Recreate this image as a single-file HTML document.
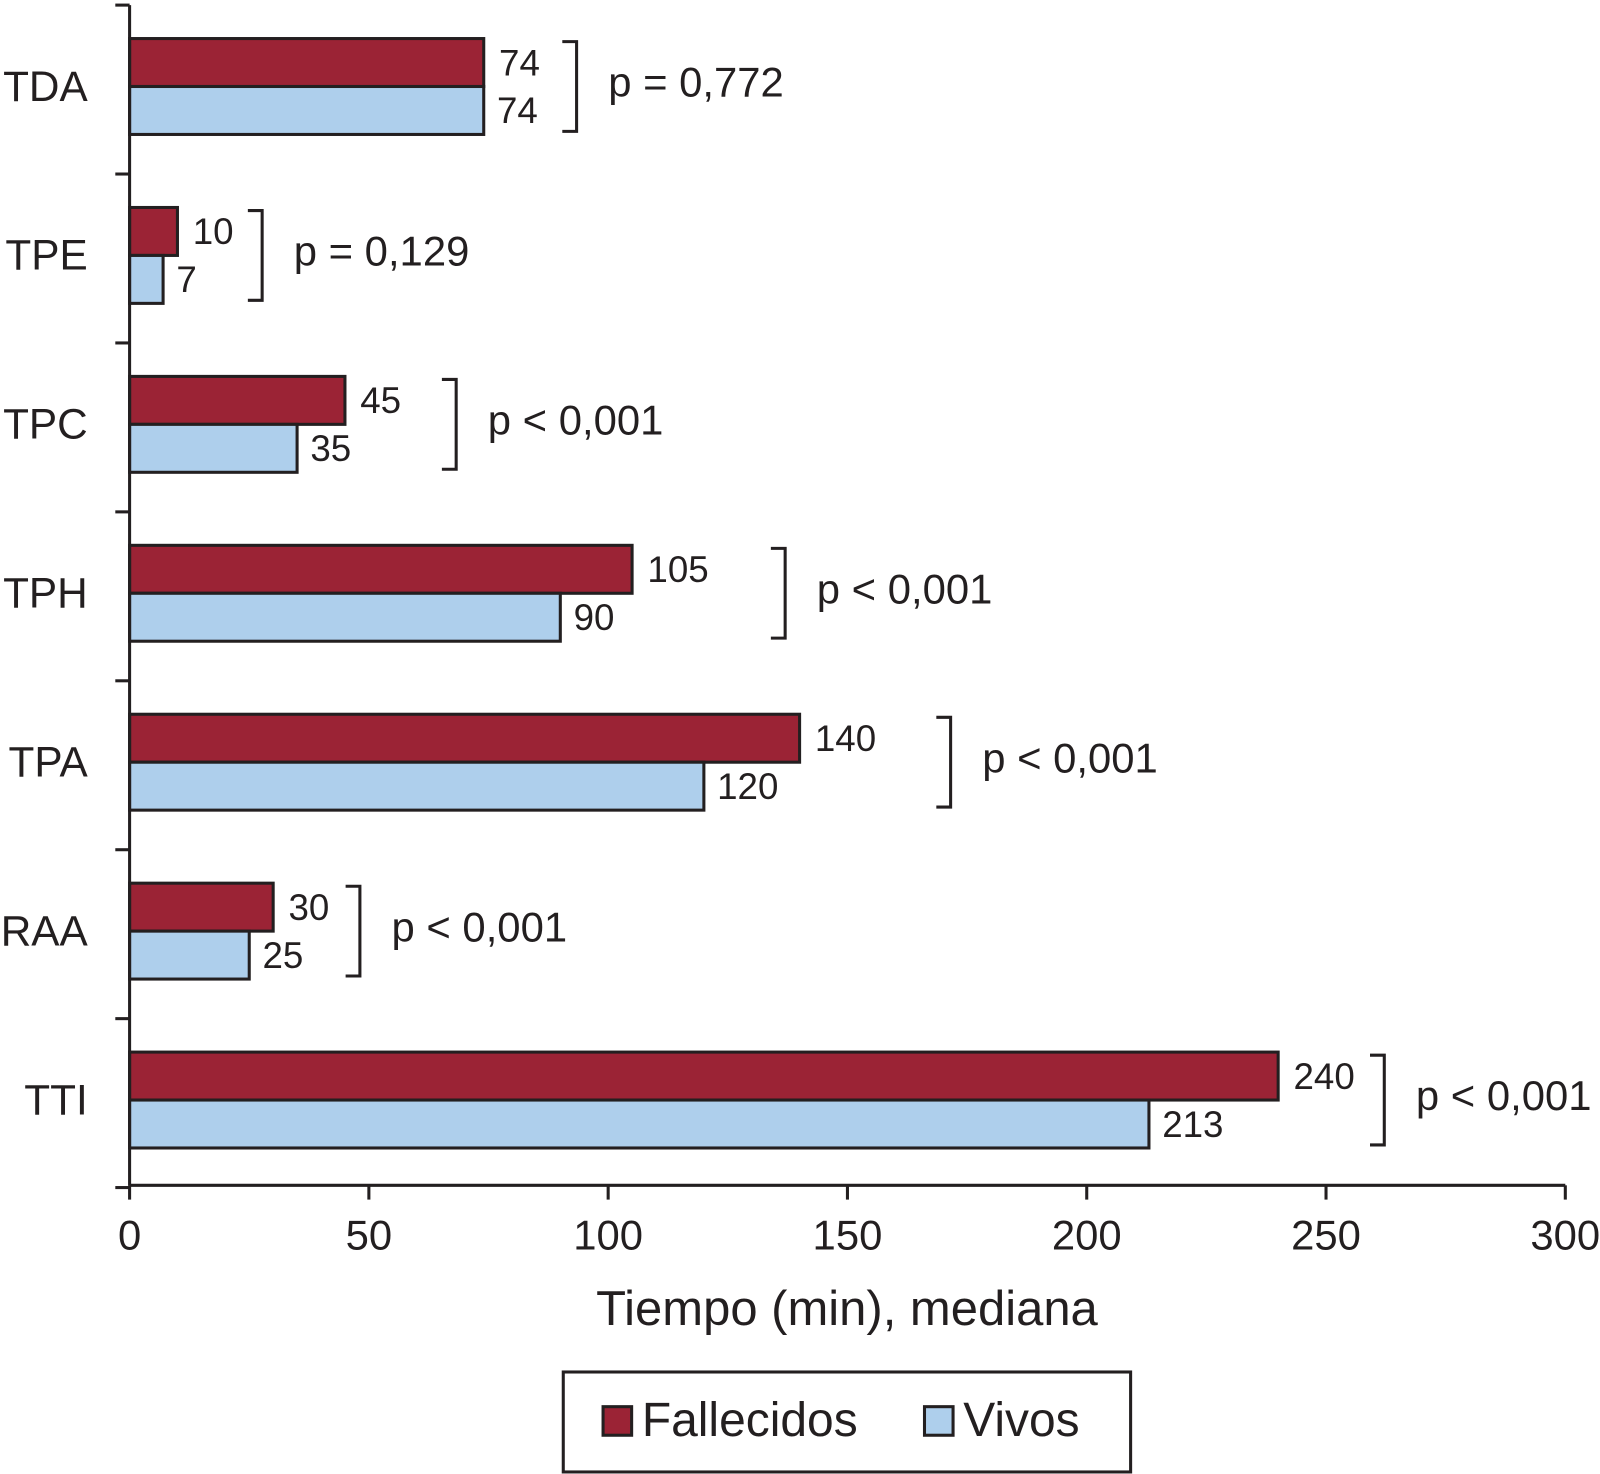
<!DOCTYPE html>
<html><head><meta charset="utf-8"><style>
html,body{margin:0;padding:0;background:#fff;}
svg{display:block;}
text{font-family:"Liberation Sans",Arial,sans-serif;fill:#231f20;}
</style></head><body>
<svg id="chart" width="1600" height="1474" viewBox="0 0 1568 1445" preserveAspectRatio="none" xmlns="http://www.w3.org/2000/svg">
<g id="plot"></g>
</svg>
<script>
const categories = ["TDA","TPE","TPC","TPH","TPA","RAA","TTI"];
const fallecidos = [74,10,45,105,140,30,240];
const vivos = [74,7,35,90,120,25,213];
const pLabels = ["p = 0,772","p = 0,129","p < 0,001","p < 0,001","p < 0,001","p < 0,001","p < 0,001"];
const xTicks = [0,50,100,150,200,250,300];

const NS = "http://www.w3.org/2000/svg";
const g = document.getElementById("plot");
const x0 = 127, x1 = 1534, xMax = 300;
const yTop = 5, bandH = 165.6;
const bracketGap = [91,83,109,150,148,85,104];
const xs = v => x0 + v / xMax * (x1 - x0);
const yc = i => yTop + bandH * (i + 0.5) - 3;
function mk(tag, attrs, parent){ const e=document.createElementNS(NS,tag); for(const k in attrs) e.setAttribute(k,attrs[k]); (parent||g).appendChild(e); return e; }

categories.forEach((c,i)=>{
  const cy = yc(i), bh = 47;
  const r = mk("rect",{x:xs(0),y:cy-bh,width:xs(fallecidos[i])-xs(0),height:bh,fill:"#9b2335",stroke:"#231f20","stroke-width":3});
  
  
  const b = mk("rect",{x:xs(0),y:cy,width:xs(vivos[i])-xs(0),height:bh,fill:"#aecfec",stroke:"#231f20","stroke-width":3});
  
  
  const t1 = mk("text",{x:xs(fallecidos[i])+15,y:cy-11,"font-size":36});
  t1.textContent = fallecidos[i];
  
  
  const t2 = mk("text",{x:xs(vivos[i])+13,y:cy+36,"font-size":36});
  t2.textContent = vivos[i];
  
  
  const lab = mk("text",{x:86,y:cy+14,"font-size":41.5,"text-anchor":"end"});
  lab.textContent = c;
  
  
  const mx = xs(Math.max(fallecidos[i],vivos[i]));
  const bx = mx + bracketGap[i];
  const br = mk("path",{d:`M${bx-14},${cy-44} H${bx} V${cy+44} H${bx-14}`,fill:"none",stroke:"#231f20","stroke-width":3});
  
  
  const p = mk("text",{x:bx+31,y:cy+10,"font-size":41});
  p.textContent = pLabels[i];
  
  
});

const ya = mk("line",{x1:x0,y1:yTop,x2:x0,y2:1162,stroke:"#231f20","stroke-width":3});


for(let k=0;k<=categories.length;k++){
  const y = yTop + bandH*k;
  const t = mk("line",{x1:113,y1:y,x2:x0,y2:y,stroke:"#231f20","stroke-width":3});
  
  
}
const xa = mk("line",{x1:x0,y1:1162,x2:x1,y2:1162,stroke:"#231f20","stroke-width":3});


xTicks.forEach(v=>{
  const t = mk("line",{x1:xs(v),y1:1162,x2:xs(v),y2:1176,stroke:"#231f20","stroke-width":3});
  
  
  const l = mk("text",{x:xs(v),y:1225,"font-size":41,"text-anchor":"middle"});
  l.textContent = v;
  
  
});
const xt = mk("text",{x:830,y:1299,"font-size":48,"text-anchor":"middle"});
xt.textContent = "Tiempo (min), mediana";



const lg = mk("g",{});


mk("rect",{x:552,y:1345,width:556,height:98,fill:"#fff",stroke:"#231f20","stroke-width":3},lg);
const s1 = mk("rect",{x:591,y:1379,width:28,height:28,fill:"#9b2335",stroke:"#231f20","stroke-width":3},lg);


const l1 = mk("text",{x:629,y:1408,"font-size":47},lg);
l1.textContent = "Fallecidos";


const s2 = mk("rect",{x:906,y:1379,width:28,height:28,fill:"#aecfec",stroke:"#231f20","stroke-width":3},lg);


const l2 = mk("text",{x:944,y:1408,"font-size":47},lg);
l2.textContent = "Vivos";


</script>
</body></html>
